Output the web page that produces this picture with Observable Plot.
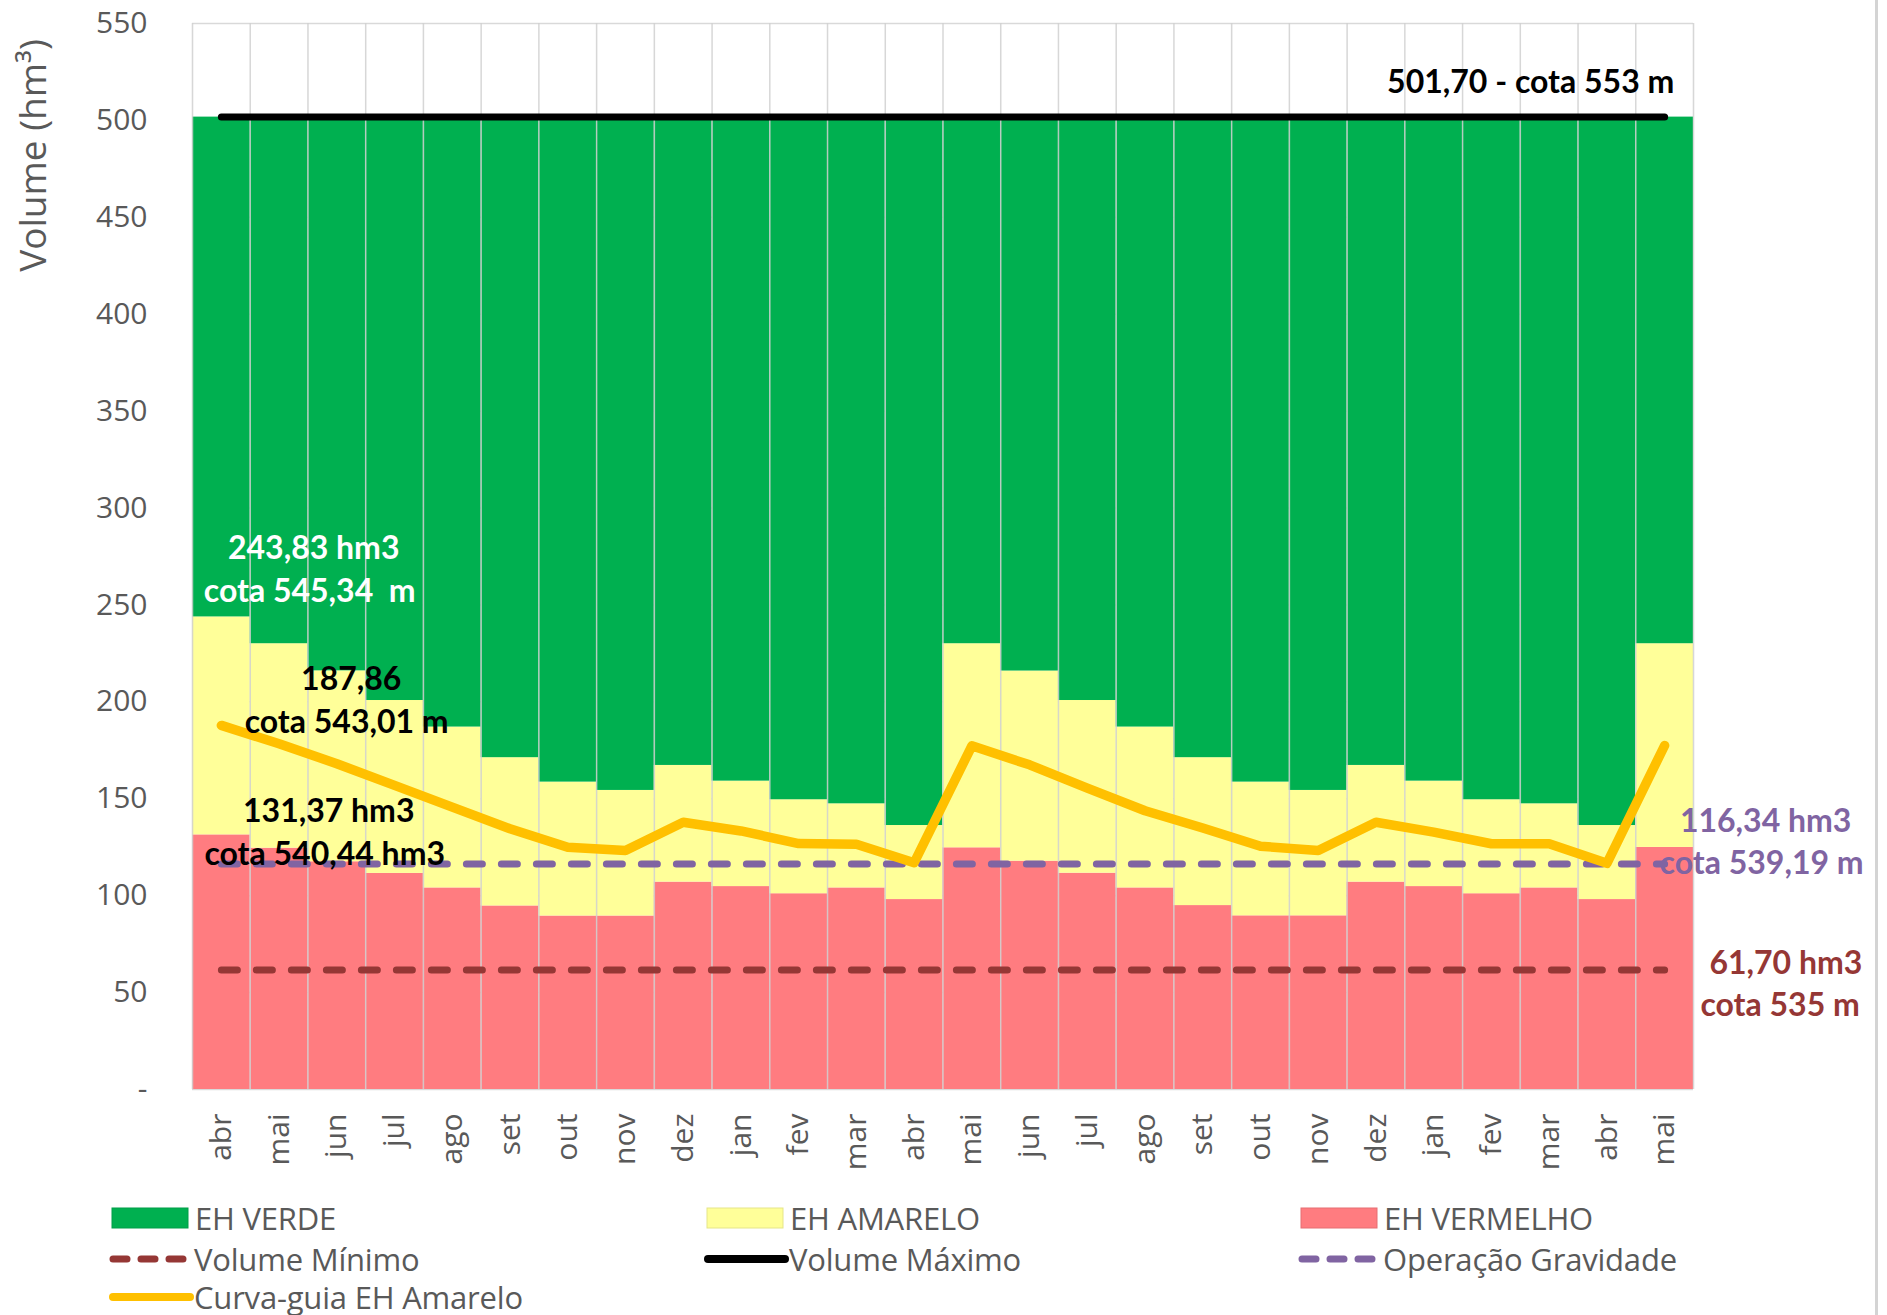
<!DOCTYPE html>
<html><head><meta charset="utf-8">
<script src="https://cdn.jsdelivr.net/npm/d3@7"></script>
<script src="https://cdn.jsdelivr.net/npm/@observablehq/plot@0.6"></script>
<style>
body{margin:0;background:#fff;width:1887px;height:1315px;position:relative;overflow:hidden;font-family:'Open Sans',sans-serif;}
#chart{position:absolute;left:0;top:0;}
.leg{position:absolute;display:flex;align-items:center;height:40px;font-size:31px;color:#595959;white-space:nowrap;letter-spacing:-0.2px;}
.leg svg{flex:none;}
#border{position:absolute;left:1875px;top:0;width:3px;height:1315px;background:#d4d4d4;}
</style></head><body>
<div id="chart"></div>
<div id="legend"></div>
<div id="border"></div>
<script>
// ---- data ----
const meses = ["abr","mai","jun","jul","ago","set","out","nov","dez","jan","fev","mar","abr","mai","jun","jul","ago","set","out","nov","dez","jan","fev","mar","abr","mai"];
// top of the red band (EH VERMELHO), hm3
const vermelhoTopo = [131.37,124.5,117.5,111.5,104,94.7,89.5,89.5,107,104.7,101,104,98,124.7,117.8,111.6,104,94.9,89.6,89.6,107,104.7,101,104,98,124.9];
// top of the yellow band (EH AMARELO), hm3
const amareloTopo = [243.83,230,216,200.7,187,171.2,158.6,154.3,167.2,159.1,149.5,147.4,136.2,230,215.9,200.7,187,171.2,158.6,154.3,167.2,159.1,149.5,147.4,136.2,230];
// Curva-guia EH Amarelo, hm3
const curvaGuia = [187.86,178.4,168.1,156.9,145.7,134.5,125,123.3,137.9,133.4,126.9,126.5,117,177.3,167.5,155.5,143.8,134.9,125.5,123.3,137.9,132.8,126.8,126.8,116.7,177.5];
const volumeMaximo = 501.70;
const operacaoGravidade = 116.34;
const volumeMinimo = 61.70;
const yTicks = [0,50,100,150,200,250,300,350,400,450,500,550];
const faixas = ["EH VERDE","EH AMARELO","EH VERMELHO"];
const rotulos = ["501,70 - cota 553 m","243,83 hm3","cota 545,34\u00a0 m","187,86","cota 543,01 m","131,37 hm3","cota 540,44 hm3","116,34 hm3","cota 539,19 m","61,70 hm3","cota 535 m"];

// ---- layout / style ----
const cores = {"EH VERDE":"#00B050","EH AMARELO":"#FFFF99","EH VERMELHO":"#FF7C80"};
const posRotulos = [
  {x:23.18,y:519.5,c:"#000000"},
  {x:2.10,y:279.1,c:"#ffffff"},
  {x:2.03,y:256.9,c:"#ffffff"},
  {x:2.75,y:211.5,c:"#000000"},
  {x:2.67,y:189.4,c:"#000000"},
  {x:2.36,y:143.4,c:"#000000"},
  {x:2.29,y:121.2,c:"#000000"},
  {x:27.25,y:138.0,c:"#8064A2"},
  {x:27.18,y:116.3,c:"#8064A2"},
  {x:27.6,y:64.8,c:"#953735"},
  {x:27.5,y:43.3,c:"#953735"}
];
const anotacoes = rotulos.map((t,k)=>({t, ...posRotulos[k]}));

const n = meses.length;
const idx = d3.range(n);
const barras = idx.flatMap(i => [
  {i, faixa:"EH VERMELHO", y1:0, y2:vermelhoTopo[i]},
  {i, faixa:"EH AMARELO", y1:vermelhoTopo[i], y2:amareloTopo[i]},
  {i, faixa:"EH VERDE", y1:amareloTopo[i], y2:volumeMaximo}
]);

const chart = Plot.plot({
  width:1887, height:1185,
  marginLeft:192, marginRight:194, marginTop:23, marginBottom:96,
  x:{domain:[0,n], axis:null, label:null},
  y:{domain:[0,550], axis:null, label:null},
  style:{fontFamily:"'Open Sans',sans-serif", background:"transparent", overflow:"visible"},
  marks:[
    Plot.ruleY(yTicks, {stroke:"#d9d9d9", strokeWidth:1.5}),
    Plot.rect(barras, {x1:d=>d.i, x2:d=>d.i+1, y1:"y1", y2:"y2", fill:d=>cores[d.faixa]}),
    Plot.ruleX(d3.range(n+1), {y1:0, y2:550, stroke:"#d0d0d0", strokeOpacity:0.85, strokeWidth:1.5}),
    Plot.lineY(idx, {x:i=>i+0.5, y:()=>volumeMinimo, stroke:"#953735", strokeWidth:7, strokeDasharray:"16,19", strokeLinecap:"round"}),
    Plot.lineY(idx, {x:i=>i+0.5, y:()=>volumeMaximo, stroke:"#000000", strokeWidth:7, strokeLinecap:"round"}),
    Plot.lineY(idx, {x:i=>i+0.5, y:()=>operacaoGravidade, stroke:"#8064A2", strokeWidth:7, strokeDasharray:"16,19", strokeLinecap:"round"}),
    Plot.lineY(idx, {x:i=>i+0.5, y:i=>curvaGuia[i], stroke:"#FFC000", strokeWidth:9.5, strokeLinejoin:"round", strokeLinecap:"round"}),
    Plot.axisY({ticks:yTicks, tickSize:0, tickPadding:45, fontSize:30, color:"#595959", label:null, tickFormat:d=>d===0?"-":String(d)}),
    Plot.axisX({ticks:idx.map(i=>i+0.5), tickFormat:d=>meses[Math.floor(d)], tickRotate:-90, tickSize:0, tickPadding:24, fontSize:30, color:"#595959", label:null}),
    Plot.text(["Volume (hm³)"], {frameAnchor:"top-left", textAnchor:"middle", lineAnchor:"middle", rotate:-90, dx:-158, dy:132, fontSize:37, fill:"#595959"}),
    Plot.text(anotacoes, {x:"x", y:"y", text:"t", fill:"c", fontSize:32, fontWeight:"bold", fontFamily:"Lato, 'Open Sans', sans-serif", lineAnchor:"middle"})
  ]
});
document.getElementById("chart").appendChild(chart);

// ---- legend ----
const legItems = [
  {label:faixas[0], kind:"rect", color:cores["EH VERDE"], left:111, top:1198},
  {label:faixas[1], kind:"rect", color:cores["EH AMARELO"], left:706, top:1198},
  {label:faixas[2], kind:"rect", color:cores["EH VERMELHO"], left:1300, top:1198},
  {label:"Volume Mínimo", kind:"dash", color:"#953735", left:108, top:1239},
  {label:"Volume Máximo", kind:"line", color:"#000000", left:703, top:1239},
  {label:"Operação Gravidade", kind:"dash", color:"#8064A2", left:1297, top:1239},
  {label:"Curva-guia EH Amarelo", kind:"line", color:"#FFC000", left:108, top:1277}
];
const legend = document.getElementById("legend");
for (const it of legItems) {
  const div = document.createElement("div");
  div.className = "leg";
  div.style.left = it.left + "px";
  div.style.top = it.top + "px";
  let sw;
  if (it.kind === "rect") {
    sw = `<svg width="84" height="22"><rect x="1" y="1" width="76" height="20" fill="${it.color}" stroke="${d3.color(it.color).darker(0.3)}" stroke-width="1"/></svg>`;
  } else if (it.kind === "dash") {
    sw = `<svg width="86" height="22"><line x1="5" x2="82" y1="11" y2="11" stroke="${it.color}" stroke-width="7" stroke-linecap="round" stroke-dasharray="14,14"/></svg>`;
  } else {
    sw = `<svg width="86" height="22"><line x1="5" x2="82" y1="11" y2="11" stroke="${it.color}" stroke-width="8" stroke-linecap="round"/></svg>`;
  }
  div.innerHTML = sw + `<span>${it.label}</span>`;
  legend.appendChild(div);
}
</script>
</body></html>
